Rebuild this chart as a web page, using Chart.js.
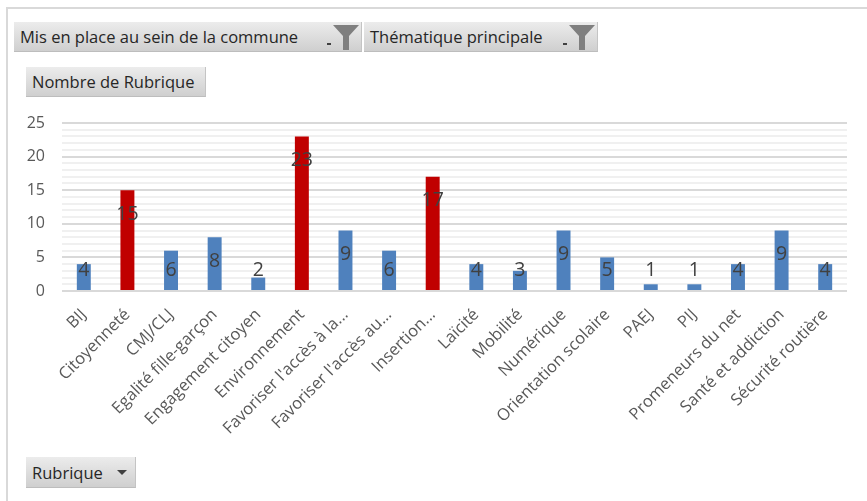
<!DOCTYPE html>
<html>
<head>
<meta charset="utf-8">
<script src="https://cdn.jsdelivr.net/npm/chart.js@4.4.1/dist/chart.umd.min.js"></script>
<style>
  body { margin: 0; background: #fff; }
  #wrap { position: relative; width: 867px; height: 501px; overflow: hidden; font-family: "Open Sans", sans-serif; }
  #chart { position: absolute; left: 0; top: 0; }
  .frame-top { position: absolute; left: 6px; top: 7px; width: 861px; height: 2px; background: #d9d9d9; }
  .frame-left { position: absolute; left: 6px; top: 7px; width: 2px; height: 494px; background: #d9d9d9; }
  .pivot-btn {
    position: absolute; box-sizing: border-box; height: 30px;
    background: linear-gradient(#ececec, #cfcfcf);
    border-bottom: 1px solid #bdbdbd; border-right: 1px solid #c4c4c4;
    color: #262626; font-size: 16.5px; line-height: 30px; padding-left: 6px; white-space: nowrap;
  }
  .pivot-btn svg { position: absolute; top: 2px; }
</style>
</head>
<body>
<div id="wrap">
  <canvas id="chart" width="867" height="501"></canvas>
  <div class="frame-top"></div>
  <div class="frame-left"></div>

  <div class="pivot-btn" style="left:14px; top:22px; width:348px;">Mis en place au sein de la commune
    <svg style="left:311px" width="36" height="27" viewBox="0 0 36 27">
      <rect x="2" y="19" width="4" height="2" fill="#404040"/>
      <polygon points="8,1 34,1 24,12 24,26 18,26 18,12" fill="#7f7f7f"/>
    </svg>
  </div>
  <div class="pivot-btn" style="left:364px; top:22px; width:234px;">Thématique principale
    <svg style="left:197px" width="36" height="27" viewBox="0 0 36 27">
      <rect x="2" y="19" width="4" height="2" fill="#404040"/>
      <polygon points="8,1 34,1 24,12 24,26 18,26 18,12" fill="#7f7f7f"/>
    </svg>
  </div>
  <div class="pivot-btn" style="left:26px; top:67px; width:180px;">Nombre de Rubrique</div>
  <div class="pivot-btn" style="left:26px; top:457px; width:110px; height:31px; line-height:31px;">Rubrique
    <svg style="left:91px; top:13px" width="10" height="6" viewBox="0 0 10 6">
      <polygon points="0,0 10,0 5,5" fill="#404040"/>
    </svg>
  </div>
</div>

<script>
// Data
const categories = [
  "BIJ", "Citoyenneté", "CMJ/CLJ", "Egalité fille-garçon", "Engagement citoyen",
  "Environnement", "Favoriser l'accès à la...", "Favoriser l'accès au...", "Insertion...",
  "Laïcité", "Mobilité", "Numérique", "Orientation scolaire", "PAEJ", "PIJ",
  "Promeneurs du net", "Santé et addiction", "Sécurité routière"
];
const counts = [4, 15, 6, 8, 2, 23, 9, 6, 17, 4, 3, 9, 5, 1, 1, 4, 9, 4];
const highlighted = ["Citoyenneté", "Environnement", "Insertion..."];
const yTicks = [0, 5, 10, 15, 20, 25];

const BLUE = "#4f81bd";
const RED = "#c00000";

const barColors = categories.map((c) => (highlighted.includes(c) ? RED : BLUE));

// Value labels drawn over the bars
const valueLabels = {
  id: "valueLabels",
  afterDatasetsDraw(chart) {
    const ctx = chart.ctx;
    const meta = chart.getDatasetMeta(0);
    ctx.save();
    ctx.font = "19.5px 'Open Sans'";
    ctx.fillStyle = "#404040";
    ctx.textAlign = "center";
    ctx.textBaseline = "middle";
    meta.data.forEach((bar, i) => {
      const y = Math.min(bar.y + 24, bar.base - 20);
      ctx.fillText(String(counts[i]), bar.x, y);
    });
    ctx.restore();
  },
};

new Chart(document.getElementById("chart"), {
  type: "bar",
  data: {
    labels: categories,
    datasets: [
      {
        data: counts,
        backgroundColor: barColors,
        barPercentage: 0.32,
        categoryPercentage: 1,
      },
    ],
  },
  options: {
    responsive: false,
    animation: false,
    layout: { padding: { top: 123, right: 20, left: 0, bottom: 0 } },
    plugins: { legend: { display: false }, tooltip: { enabled: false } },
    scales: {
      x: {
        grid: { display: false },
        border: { display: false },
        ticks: {
          autoSkip: false,
          minRotation: 45,
          maxRotation: 45,
          color: "#595959",
          font: { family: "'Open Sans'", size: 16.5 },
          padding: 6,
        },
        afterFit(scale) { scale.height = 210; },
      },
      y: {
        min: 0,
        max: 25,
        border: { display: false },
        grid: {
          color: (c) => (yTicks.includes(c.tick.value) ? "#d9d9d9" : "#f0f0f0"),
          lineWidth: 2,
          drawTicks: false,
        },
        ticks: {
          stepSize: 1,
          autoSkip: false,
          maxTicksLimit: 30,
          padding: 17,
          color: "#595959",
          font: { family: "'Open Sans'", size: 16 },
          callback: (v) => (yTicks.includes(v) ? v : ""),
        },
        afterFit(scale) { scale.width = 62; },
      },
    },
  },
  plugins: [valueLabels],
});
</script>
</body>
</html>
